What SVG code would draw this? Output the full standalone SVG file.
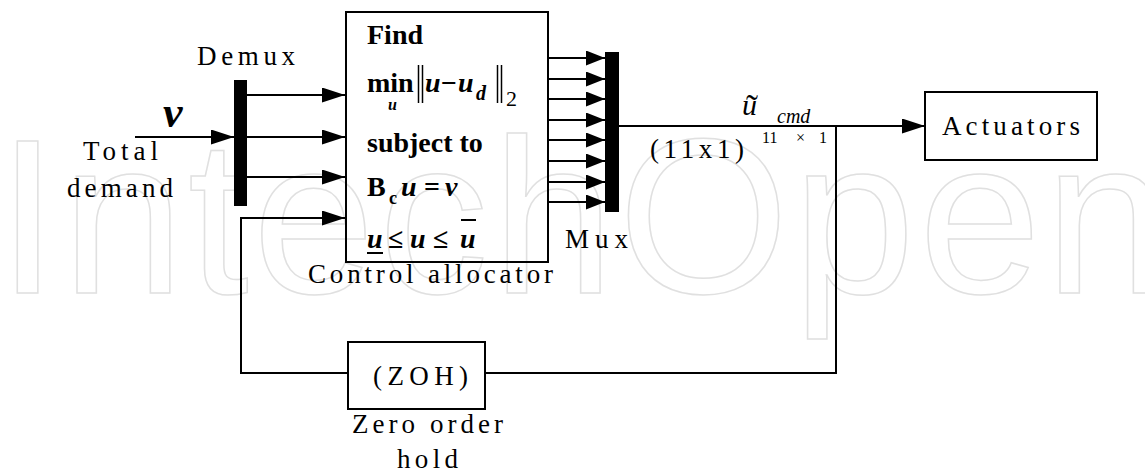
<svg xmlns="http://www.w3.org/2000/svg" width="1145" height="473" viewBox="0 0 1145 473">
<style>
.wm{font-family:"Liberation Sans",Arial,sans-serif;font-size:220px;fill:none;stroke:#e0e0e0;stroke-width:1.5}
.lbl{font-family:'Liberation Serif','DejaVu Serif','Noto Serif',serif;font-size:27px;fill:#000}
.mb{font-family:'Liberation Serif','DejaVu Serif','Noto Serif',serif;font-size:28px;font-weight:bold;fill:#000}
.mbi{font-family:'Liberation Serif','DejaVu Serif','Noto Serif',serif;font-size:28px;font-weight:bold;font-style:italic;fill:#000}
.it{font-family:'Liberation Serif','DejaVu Serif','Noto Serif',serif;font-style:italic;fill:#000}
.box{fill:none;stroke:#000;stroke-width:2}
.bar{fill:#000}
.wire{fill:none;stroke:#000;stroke-width:2}
.deco{stroke:#000;stroke-width:2}
</style>
<defs>
<marker id="ah" markerUnits="userSpaceOnUse" markerWidth="24" markerHeight="16" refX="23" refY="7.5" orient="auto"><path d="M0,0 L23,7.5 L0,15 z" fill="#000"/></marker>
<marker id="ahm" markerUnits="userSpaceOnUse" markerWidth="20" markerHeight="16" refX="19" refY="7.5" orient="auto"><path d="M0,0 L19,7.5 L0,15 z" fill="#000"/></marker>
</defs>
<rect width="1145" height="473" fill="#fff"/>
<text class="wm" x="-3" y="293" textLength="1170" lengthAdjust="spacing">IntechOpen</text>

<g id="connectors">
<path class="wire" d="M135,137 H234" marker-end="url(#ah)"/>
<path class="wire" d="M247,95 H345" marker-end="url(#ah)"/>
<path class="wire" d="M247,137 H345" marker-end="url(#ah)"/>
<path class="wire" d="M247,177 H345" marker-end="url(#ah)"/>
<path class="wire" d="M348,373 H241 V218 H345" marker-end="url(#ah)"/>
<path class="wire" d="M549,58 H605" marker-end="url(#ahm)"/>
<path class="wire" d="M549,79 H605" marker-end="url(#ahm)"/>
<path class="wire" d="M549,99 H605" marker-end="url(#ahm)"/>
<path class="wire" d="M549,120 H605" marker-end="url(#ahm)"/>
<path class="wire" d="M549,140 H605" marker-end="url(#ahm)"/>
<path class="wire" d="M549,161 H605" marker-end="url(#ahm)"/>
<path class="wire" d="M549,182 H605" marker-end="url(#ahm)"/>
<path class="wire" d="M549,202 H605" marker-end="url(#ahm)"/>
<path class="wire" d="M619,126 H925" marker-end="url(#ah)"/>
<path class="wire" d="M836,126 V373 H485"/>
</g>

<g id="input-label">
<text class="mbi" x="163" y="127" style="font-size:44px">v</text>
<text class="lbl" x="83" y="160" textLength="75" lengthAdjust="spacing">Total</text>
<text class="lbl" x="67" y="197" textLength="106" lengthAdjust="spacing">demand</text>
</g>

<g id="demux">
<rect class="bar" x="234" y="80" width="13" height="126"/>
<text class="lbl" x="197" y="65" textLength="98" lengthAdjust="spacing">Demux</text>
</g>

<g id="control-allocator">
<rect class="box" x="346" y="12" width="202" height="250"/>
<text class="mb" x="367" y="44">Find</text>
<text class="mb" x="367" y="92">min</text>
<text class="mbi" x="388" y="110" style="font-size:16px">u</text>
<line class="deco" x1="418.5" y1="65" x2="418.5" y2="103" style="stroke-width:1.5"/>
<line class="deco" x1="422.5" y1="65" x2="422.5" y2="103" style="stroke-width:1.5"/>
<text class="mbi" x="425" y="92">u</text>
<text class="mb" x="441" y="92">−</text>
<text class="mbi" x="458" y="92">u</text>
<text class="mbi" x="476" y="100" style="font-size:20px">d</text>
<line class="deco" x1="497.5" y1="65" x2="497.5" y2="103" style="stroke-width:1.5"/>
<line class="deco" x1="501.5" y1="65" x2="501.5" y2="103" style="stroke-width:1.5"/>
<text class="lbl" x="506" y="106" style="font-size:22px">2</text>
<text class="mb" x="367" y="152">subject to</text>
<text class="mb" x="367" y="196">B</text>
<text class="mb" x="389" y="204" style="font-size:18px">c</text>
<text class="mbi" x="401" y="196">u</text>
<text class="mb" x="424" y="196">=</text>
<text class="mbi" x="445" y="196">v</text>
<text class="mbi" x="367" y="248">u</text>
<line class="deco" x1="367" y1="253" x2="383" y2="253"/>
<text class="mb" x="388" y="248">≤</text>
<text class="mbi" x="410" y="248">u</text>
<text class="mb" x="433" y="248">≤</text>
<text class="mbi" x="460" y="248">u</text>
<line class="deco" x1="461" y1="220" x2="476" y2="220"/>
<text class="lbl" x="308" y="283" textLength="245" lengthAdjust="spacing">Control allocator</text>
</g>

<g id="mux">
<rect class="bar" x="605" y="52" width="14" height="160"/>
<text class="lbl" x="565" y="248" textLength="63" lengthAdjust="spacing">Mux</text>
</g>

<g id="output-label">
<text class="it" x="742" y="115" style="font-size:30px">u</text>
<text class="it" x="752" y="120" text-anchor="middle" style="font-size:36px;font-style:normal">˜</text>
<text class="it" x="777" y="123" style="font-size:20px">cmd</text>
<text class="lbl" x="650" y="158" textLength="94" lengthAdjust="spacing">(11x1)</text>
<text class="lbl" x="762" y="143" style="font-size:16px">11</text>
<text class="lbl" x="796" y="143" style="font-size:16px">×</text>
<text class="lbl" x="819" y="143" style="font-size:16px">1</text>
</g>

<g id="actuators">
<rect class="box" x="925" y="92" width="172" height="68"/>
<text class="lbl" x="942" y="135" textLength="138" lengthAdjust="spacing">Actuators</text>
</g>

<g id="zoh">
<rect class="box" x="348" y="342" width="137" height="67"/>
<text class="lbl" x="373" y="385" textLength="95" lengthAdjust="spacing">(ZOH)</text>
<text class="lbl" x="352" y="433" textLength="151" lengthAdjust="spacing">Zero order</text>
<text class="lbl" x="397" y="468" textLength="61" lengthAdjust="spacing">hold</text>
</g>
</svg>
